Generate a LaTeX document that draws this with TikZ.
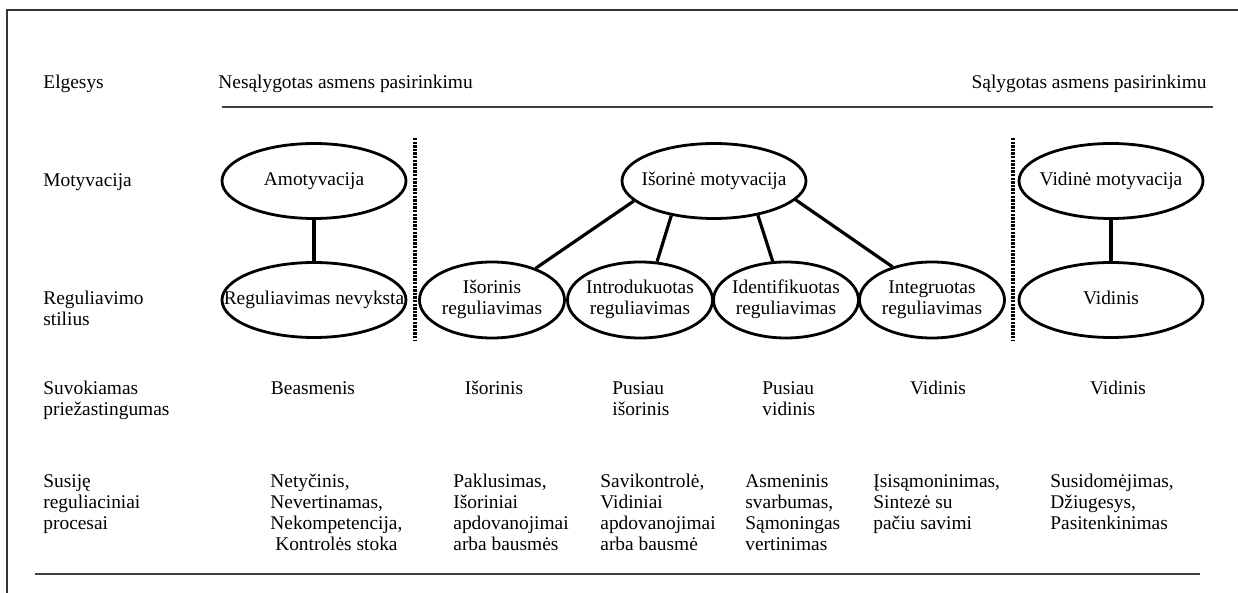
\documentclass[tikz,border=0pt]{standalone}
\usepackage{fontspec}
\setmainfont{Liberation Serif}
\usetikzlibrary{shapes.geometric,positioning}
\newcommand{\elltext}[1]{\makebox[0pt]{\begin{tabular}{@{}c@{}}#1\end{tabular}}}
\tikzset{
  ell/.style={ellipse,draw=black,line width=1.4pt,minimum width=92pt,
    minimum height=37.5pt,inner sep=0pt},
  ellsm/.style={ell,minimum width=72.5pt,minimum height=38pt},
  rowlbl/.style={anchor=north west,inner sep=0pt,align=left},
  cell/.style={anchor=north west,inner sep=0pt,align=left},
  conn/.style={line width=1.6pt},
  vconn/.style={line width=1.9pt},
  sep/.style={line width=1.6pt,dash pattern=on 1.2pt off 0.6pt},
  rule/.style={line width=0.6pt,black!75},
  frame/.style={line width=0.7pt,black!80},
}
\begin{document}
\begin{tikzpicture}[x=0.5pt,y=-0.5pt,every node/.style={font=\fontsize{9.7pt}{10.5pt}\selectfont}]
  \useasboundingbox (0,0) rectangle (1238,593);
  % ---- frame and rules ----
  \draw[frame] (1238,10) -- (7,10) -- (7,593);
  \draw[rule] (222,107) -- (1213,107);
  \draw[rule] (35,574) -- (1200,574);
  % ---- header ----
  \node[anchor=base west,inner sep=0pt] (elg) at (43,89) {Elgesys};
  \node[anchor=base west,inner sep=0pt] (nesal) at (218,89) {Nesąlygotas asmens pasirinkimu};
  \node[anchor=base east,inner sep=0pt] (sal) at (1207,89) {Sąlygotas asmens pasirinkimu};
  % ---- row labels ----
  \node[anchor=base west,inner sep=0pt] (motl) at (43,187) {Motyvacija};
  \node[rowlbl] (regl) at (43,291) {Reguliavimo\\stilius};
  \node[rowlbl] (suvl) at (43,381) {Suvokiamas\\priežastingumas};
  \node[rowlbl] (susl) at (43,474) {Susiję\\reguliaciniai\\procesai};
  % ---- ellipses ----
  \node[ell] (amot) at (314,181) {\elltext{Amotyvacija}};
  \node[ell] (nereg) at (314,300) {\elltext{Reguliavimas nevyksta}};
  \node[ell] (isor) at (714,181) {\elltext{Išorinė motyvacija}};
  \node[ellsm] (isreg) at (492,300) {\elltext{Išorinis\\reguliavimas}};
  \node[ellsm] (intro) at (640,300) {\elltext{Introdukuotas\\reguliavimas}};
  \node[ellsm] (ident) at (786,300) {\elltext{Identifikuotas\\reguliavimas}};
  \node[ellsm] (integ) at (932,300) {\elltext{Integruotas\\reguliavimas}};
  \node[ell] (vidm) at (1111,181) {\elltext{Vidinė motyvacija}};
  \node[ell] (vidr) at (1111,300) {\elltext{Vidinis}};
  % ---- connectors ----
  \draw[vconn] (amot) -- (nereg);
  \draw[vconn] (vidm) -- (vidr);
  \draw[conn] (isor.194) -- (isreg.36);
  \draw[conn] (isor.219) -- (intro.66);
  \draw[conn] (isor.322) -- (ident.109);
  \draw[conn] (isor.347) -- (integ.140);
  % ---- dotted separators ----
  \coordinate (s1t) at (415,138); \coordinate (s1b) at (415,340);
  \coordinate (s2t) at (1013,138); \coordinate (s2b) at (1013,340);
  \draw[sep] (s1t) -- (s1b);
  \draw[sep] (s2t) -- (s2b);
  % ---- perceived causality ----
  \node[anchor=base,inner sep=0pt] (c1) at (313,394) {Beasmenis};
  \node[anchor=base,inner sep=0pt] (c2) at (494,394) {Išorinis};
  \node[cell] (c3) at (612,381) {Pusiau\\išorinis};
  \node[cell] (c4) at (762,381) {Pusiau\\vidinis};
  \node[anchor=base,inner sep=0pt] (c5) at (938,394) {Vidinis};
  \node[anchor=base,inner sep=0pt] (c6) at (1118,394) {Vidinis};
  % ---- regulatory processes ----
  \node[cell] (p1) at (270,474) {Netyčinis,\\Nevertinamas,\\Nekompetencija,\\\ Kontrolės stoka};
  \node[cell] (p2) at (453,474) {Paklusimas,\\Išoriniai\\apdovanojimai\\arba bausmės};
  \node[cell] (p3) at (600,474) {Savikontrolė,\\Vidiniai\\apdovanojimai\\arba bausmė};
  \node[cell] (p4) at (745,474) {Asmeninis\\svarbumas,\\Sąmoningas\\vertinimas};
  \node[cell] (p5) at (873,474) {Įsisąmoninimas,\\Sintezė su\\pačiu savimi};
  \node[cell] (p6) at (1050,474) {Susidomėjimas,\\Džiugesys,\\Pasitenkinimas};
\end{tikzpicture}
\end{document}
